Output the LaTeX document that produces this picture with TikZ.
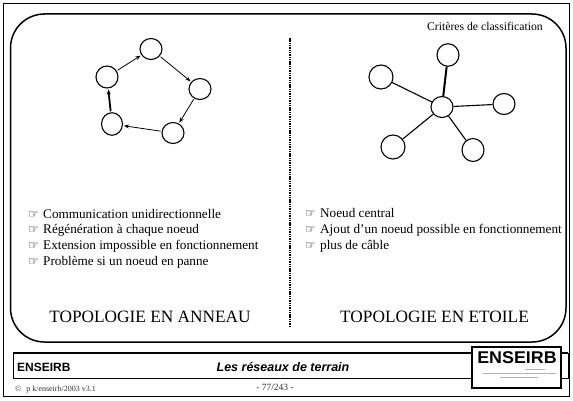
\documentclass[tikz,border=0pt]{standalone}
\usepackage{fontspec}
\setmainfont{Liberation Serif}
\setsansfont{Liberation Sans}
\newfontfamily\symfont{DejaVu Sans}
\usetikzlibrary{shapes,arrows.meta}
\newcommand{\hand}{\makebox[15pt][l]{\symfont\fontsize{12}{12}\selectfont ☞}}

\begin{document}
\begin{tikzpicture}[x=1pt, y=1pt]
\tikzstyle{station}=[draw, shape=ellipse, line width=1.1pt, inner sep=0pt, minimum width=22pt, minimum height=21pt];
\tikzstyle{big}=[station, minimum width=24pt, minimum height=24pt];
\tikzstyle{flow}=[line width=0.8pt, -{Stealth[length=5pt, width=4pt]}, shorten <=1pt, shorten >=1pt];
\tikzstyle{link}=[line width=1.1pt];
\tikzstyle{item}=[inner sep=0pt, anchor=base west, font=\fontsize{13.2}{15.8}\selectfont];
\tikzstyle{title}=[inner sep=0pt, anchor=base, font=\fontsize{17.3}{20}\selectfont];
\useasboundingbox (0,0) rectangle (573,400);
% frame, panel and divider
\draw[line width=1.5pt] (3.5,3.5) rectangle (569.5,396.5);
\draw[line width=1.5pt, rounded corners=34pt] (10.5,58) rectangle (566,386);
\draw[line width=2.6pt, dash pattern=on 1.4pt off 0.9pt] (290,73) -- (290,362);
\node[inner sep=0pt, anchor=base east, font=\fontsize{11.7}{14}\selectfont] (crit) at (543,370) {Critères de classification};
% ring
\node[station] (r1) at (151,351) {};
\node[station] (r2) at (200,311) {};
\node[station] (r3) at (173,267) {};
\node[station, minimum width=21pt, minimum height=22.5pt] (r4) at (112,276) {};
\node[station, minimum height=22pt] (r5) at (107,323) {};
\draw[flow] (r5) -- (r1);
\draw[flow] (r1) -- (r2);
\draw[flow] (r2) -- (r3);
\draw[flow] (r3) -- (r4);
\draw[flow, line width=1.8pt] (r4) -- (r5);
% star
\node[station] (s0) at (442,293) {};
\node[station, minimum height=22.5pt] (s1) at (448,345) {};
\node[big] (s2) at (381,323) {};
\node[station] (s3) at (504,296) {};
\node[big] (s4) at (393,253) {};
\node[station, minimum height=23pt] (s5) at (473,250) {};
\draw[link, line width=2pt] (s0) -- (s1);
\draw[link] (s0) -- (s2)
(s0) -- (s3)
(s0) -- (s4)
(s0) -- (s5);
% lists
\node[item] (a1) at (28,182) {\hand Communication unidirectionnelle};
\node[item] (a2) at (28,166.2) {\hand Régénération à chaque noeud};
\node[item] (a3) at (28,150.4) {\hand Extension impossible en fonctionnement};
\node[item] (a4) at (28,134.6) {\hand Problème si un noeud en panne};
\node[item] (b1) at (305,182.5) {\hand Noeud central};
\node[item] (b2) at (305,166.7) {\hand Ajout d’un noeud possible en fonctionnement};
\node[item] (b3) at (305,150.9) {\hand plus de câble};
\node[title] (t1) at (150,78) {TOPOLOGIE EN ANNEAU};
\node[title] (t2) at (434.5,78) {TOPOLOGIE EN ETOILE};
% footer
\draw[line width=0.8pt] (13,22) rectangle (568,47);
\draw[line width=2pt] (13,47) -- (568,47);
\draw[line width=1.8pt, fill=white] (472,12) rectangle (561,53);
\node[inner sep=0pt, anchor=base, font=\sffamily\bfseries\fontsize{17}{17}\selectfont, xscale=1.05] (logo) at (517,37) {ENSEIRB};
\draw[gray!60, line width=1pt] (525,31) -- (545,31);
\draw[gray!60, line width=1pt] (483,27) -- (556,27);
\draw[gray!60, line width=1pt] (500,23) -- (538,23);
\node[inner sep=0pt, anchor=base west, font=\sffamily\bfseries\fontsize{12}{14}\selectfont] (school) at (17,29) {ENSEIRB};
\node[inner sep=0pt, anchor=base, font=\sffamily\bfseries\itshape\fontsize{12.5}{14}\selectfont] (course) at (283,29) {Les réseaux de terrain};
\node[inner sep=0pt, anchor=base, text=black!80, font=\fontsize{9.5}{11}\selectfont] (page) at (275,10) {- 77/243 -};
\node[inner sep=0pt, anchor=base west, text=black!80, font=\fontsize{8}{10}\selectfont] (copy) at (15,9) {©\hspace{5pt}p k/enseirb/2003 v3.1};
\end{tikzpicture}
\end{document}
